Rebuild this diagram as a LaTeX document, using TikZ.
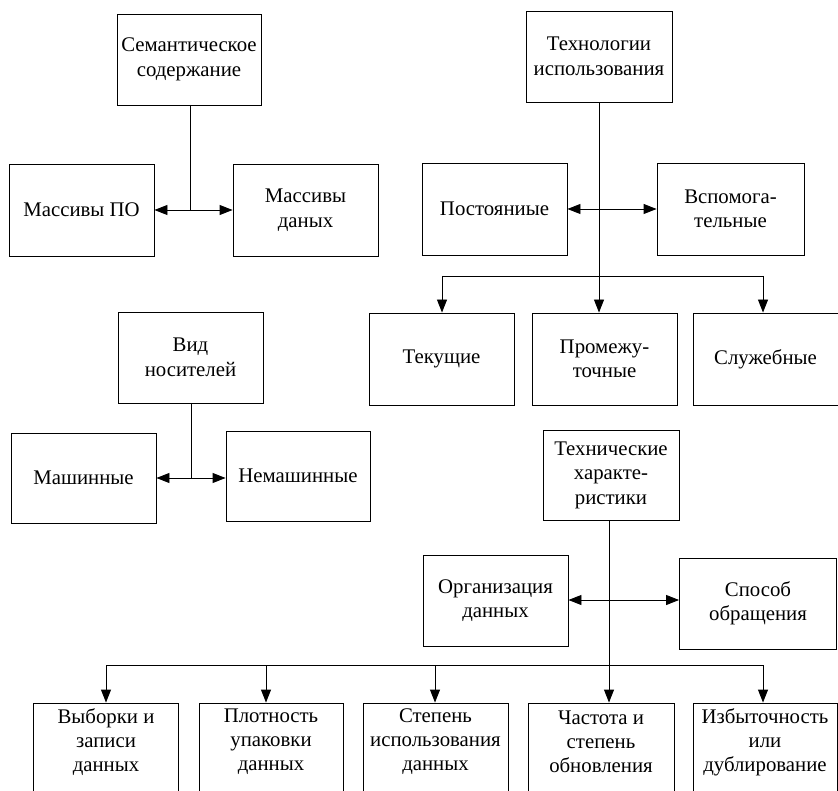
\documentclass[tikz,border=0pt]{standalone}
\usepackage{fontspec}
\setmainfont{Liberation Serif}
\usetikzlibrary{arrows.meta}
\begin{document}
\begin{tikzpicture}[x=1pt,y=-1pt,
  line width=0.9pt,
  box/.style={draw, line width=0.9pt, inner sep=0pt, minimum width=145pt, minimum height=92pt, align=center, font=\fontsize{20.8}{24.5}\selectfont},
  bbox/.style={draw, line width=0.9pt, inner sep=0pt, minimum width=145pt, minimum height=100pt},
  txt/.style={inner sep=0pt, align=center, font=\fontsize{20.8}{24}\selectfont},
  tip/.style={-{Triangle[length=13pt,width=10pt]}},
  dtip/.style={{Triangle[length=13pt,width=10pt]}-{Triangle[length=13pt,width=10pt]}}]
\clip (0,0) rectangle (838,791);
\fill[white] (0,0) rectangle (838,791);
% group 1
\node[box, minimum width=144pt, minimum height=91pt] (sem) at (189,59.5) {Семантическое\\содержание};
\node[box] (mpo) at (81.5,210) {Массивы ПО};
\node[box] (mdan) at (305.5,210) {Массивы\\даных};
\draw (190,105) coordinate (s1) -- (190,210) coordinate (s2);
\draw[dtip] (mpo.east) -- (mdan.west);
% group 2
\node[box, minimum width=146pt, minimum height=91pt] (tech) at (599,56.5) {Технологии\\использования};
\node[box] (post) at (494.5,209) {Постояниые};
\node[box, minimum width=147pt] (vsp) at (730.5,209) {Вспомога-\\тельные};
\node[box] (tek) at (441.5,359) {Текущие};
\node[box] (prom) at (604.5,359) {Промежу-\\точные};
\node[box] (sluzh) at (765.5,359) {Служебные};
\draw[dtip] (post.east) -- (vsp.west);
\coordinate (t1) at (442,276);
\coordinate (t2) at (599,276);
\coordinate (t3) at (763,276);
\draw (t1) -- (t3);
\draw[tip] (tech.south -| t2) -- (t2 |- prom.north);
\draw[tip] (t1) -- (t1 |- tek.north);
\draw[tip] (t3) -- (t3 |- sluzh.north);
% group 3
\node[box, minimum height=91pt] (vid) at (190.5,357.5) {Вид\\носителей};
\node[box, minimum height=90pt] (mash) at (83.5,478) {Машинные};
\node[box, minimum width=144pt, minimum height=90pt] (nemash) at (298,476) {Немашинные};
\draw (191,403) coordinate (v1) -- (191,478) coordinate (v2);
\draw[dtip] (mash.east |- v2) -- (nemash.west |- v2);
% group 4
\node[box, minimum width=136pt, minimum height=90pt] (tch) at (611,475) {Технические\\характе-\\ристики};
\node[box, minimum height=91pt] (org) at (495.5,600.5) {Организация\\данных};
\node[box, minimum width=157pt, minimum height=91pt] (spos) at (758,603.5) {Способ\\обращения};
\draw[dtip] (org.east |- 0,600) -- (spos.west |- 0,600);
\node[bbox] (b1) at (106,753) {};
\node[bbox, minimum width=144pt] (b2) at (271,753) {};
\node[bbox] (b3) at (435.5,753) {};
\node[bbox, minimum width=146pt] (b4) at (601,753) {};
\node[bbox, minimum width=144pt] (b5) at (765,753) {};
\node[txt] at ([yshift=11pt]b1.center) {Выборки и\\записи\\данных};
\node[txt] at ([yshift=11pt]b2.center) {Плотность\\упаковки\\данных};
\node[txt] at ([yshift=11pt]b3.center) {Степень\\использования\\данных};
\node[txt] at ([yshift=11pt]b4.center) {Частота и\\степень\\обновления};
\node[txt] at ([yshift=11pt]b5.center) {Избыточность\\или\\дублирование};
\coordinate (c1) at (106,665);
\coordinate (c2) at (266,665);
\coordinate (c3) at (435,665);
\coordinate (c4) at (609,665);
\coordinate (c5) at (763,665);
\draw (c1) -- (c5);
\draw[tip] (tch.south -| c4) -- (c4 |- b4.north);
\draw[tip] (c1) -- (c1 |- b1.north);
\draw[tip] (c2) -- (c2 |- b2.north);
\draw[tip] (c3) -- (c3 |- b3.north);
\draw[tip] (c5) -- (c5 |- b5.north);
\end{tikzpicture}
\end{document}
